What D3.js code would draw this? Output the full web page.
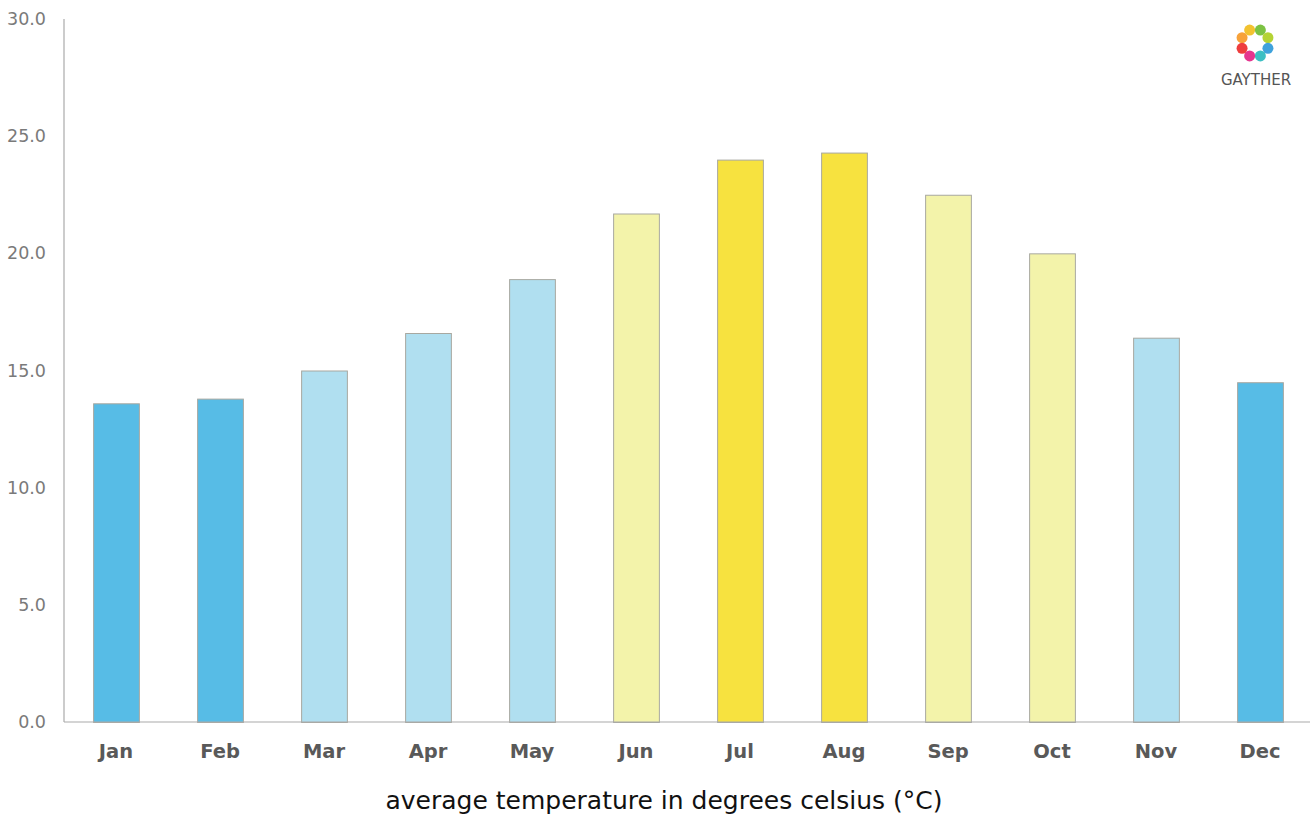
<!DOCTYPE html>
<html>
<head>
<meta charset="utf-8">
<script src="https://cdn.jsdelivr.net/npm/d3@7"></script>
<style>
  body { margin: 0; background: #fff; }
  svg { display: block; }
</style>
</head>
<body>
<svg id="chart" width="1313" height="817"></svg>
<script>
// monthly average temperatures
const months = ['Jan', 'Feb', 'Mar', 'Apr', 'May', 'Jun', 'Jul', 'Aug', 'Sep', 'Oct', 'Nov', 'Dec'];
const temps = [13.6, 13.8, 15.0, 16.6, 18.9, 21.7, 24.0, 24.3, 22.5, 20.0, 16.4, 14.5];
// colour group per month: 0 cold, 1 cool, 2 warm, 3 hot
const groups = [0, 0, 1, 1, 1, 2, 3, 3, 2, 2, 1, 0];
const yTicks = [0, 5, 10, 15, 20, 25, 30];

const palette = ['#57bce6', '#b0dff0', '#f3f3aa', '#f7e23f'];
const logoColors = ['#f7a23a', '#f2c230', '#7cc243', '#b4d334', '#3fa2dc', '#3cbfc3', '#e5358f', '#ee3d3d'];

const font = '"DejaVu Sans", Verdana, sans-serif';

const svg = d3.select('#chart');
const plotLeft = 64;
const plotRight = 1312;
const plotTop = 19;
const plotBottom = 722;

const x = d3.scaleBand()
    .domain(months)
    .range([plotLeft, plotRight])
    .paddingInner(0.56)
    .paddingOuter(0.28);

const y = d3.scaleLinear()
    .domain([0, 30])
    .range([plotBottom, plotTop]);

// y axis labels
svg.append('g')
    .selectAll('text')
    .data(yTicks)
    .join('text')
    .attr('x', 46)
    .attr('y', (d) => y(d))
    .attr('dy', '0.35em')
    .attr('text-anchor', 'end')
    .attr('fill', '#7a7a7a')
    .attr('font-family', font)
    .attr('font-size', 17.5)
    .text((d) => d.toFixed(1));

// bars
svg.append('g')
    .selectAll('rect')
    .data(months)
    .join('rect')
    .attr('x', (d) => x(d) + 0.5)
    .attr('y', (d, i) => y(temps[i]) + 0.5)
    .attr('width', x.bandwidth())
    .attr('height', (d, i) => plotBottom - y(temps[i]))
    .attr('fill', (d, i) => palette[groups[i]])
    .attr('stroke', '#a8a8a0')
    .attr('stroke-width', 1);

// axis lines
svg.append('line')
    .attr('x1', plotLeft).attr('x2', plotLeft)
    .attr('y1', plotTop).attr('y2', plotBottom)
    .attr('stroke', '#aaa').attr('stroke-width', 1.2);
svg.append('line')
    .attr('x1', plotLeft).attr('x2', 1310)
    .attr('y1', plotBottom).attr('y2', plotBottom)
    .attr('stroke', '#aaa').attr('stroke-width', 1.2);

// month labels
svg.append('g')
    .selectAll('text')
    .data(months)
    .join('text')
    .attr('x', (d) => x(d) + x.bandwidth() / 2)
    .attr('y', 758)
    .attr('text-anchor', 'middle')
    .attr('fill', '#595959')
    .attr('font-family', font)
    .attr('font-weight', 'bold')
    .attr('font-size', 19.5)
    .text((d) => d);

// caption
svg.append('text')
    .attr('x', 664)
    .attr('y', 809)
    .attr('text-anchor', 'middle')
    .attr('fill', '#111')
    .attr('font-family', font)
    .attr('font-size', 25)
    .text('average temperature in degrees celsius (°C)');

// logo
const logo = svg.append('g').attr('transform', 'translate(1255,43)');
logo.selectAll('circle')
    .data(logoColors)
    .join('circle')
    .attr('cx', (d, i) => 14 * Math.cos(-Math.PI * 7 / 8 + i * Math.PI / 4))
    .attr('cy', (d, i) => 14 * Math.sin(-Math.PI * 7 / 8 + i * Math.PI / 4))
    .attr('r', 5.5)
    .attr('fill', (d) => d);
logo.append('text')
    .attr('x', 1)
    .attr('y', 42)
    .attr('text-anchor', 'middle')
    .attr('fill', '#555')
    .attr('font-family', font)
    .attr('font-size', 15)
    .text('GAYTHER');
</script>
</body>
</html>
